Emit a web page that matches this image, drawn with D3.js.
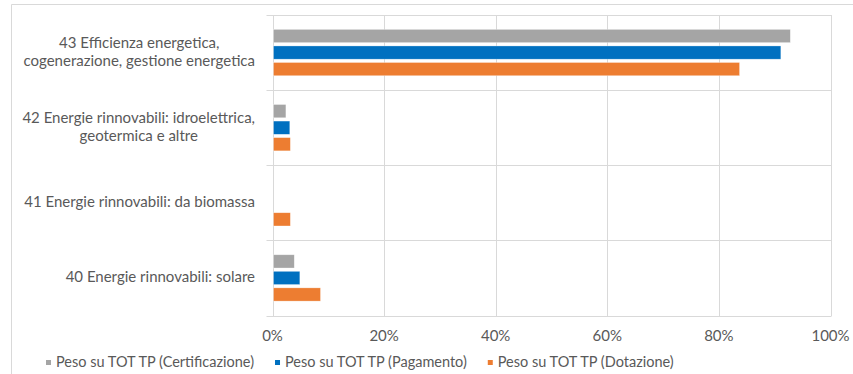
<!DOCTYPE html>
<html>
<head>
<meta charset="utf-8">
<script src="https://cdn.jsdelivr.net/npm/d3@7"></script>
<style>
  html, body { margin: 0; padding: 0; background: #fff; }
  svg { display: block; }
  text { font-family: Lato, "Open Sans", sans-serif; fill: #595959; }
</style>
</head>
<body>
<svg id="chart" width="853" height="374"></svg>
<script>
// Intervention categories (top to bottom) and their wrapped label lines
const categories = ["43", "42", "41", "40"];
const categoryLabels = [
  ["43 Efficienza energetica,", "cogenerazione, gestione energetica"],
  ["42 Energie rinnovabili: idroelettrica,", "geotermica e altre"],
  ["41 Energie rinnovabili: da biomassa"],
  ["40 Energie rinnovabili: solare"]
];

// Share of total per category
const seriesNames = [
  "Peso su TOT TP (Certificazione)",
  "Peso su TOT TP (Pagamento)",
  "Peso su TOT TP (Dotazione)"
];
const certificazione = [0.928, 0.024, 0.000, 0.039];
const pagamento      = [0.911, 0.031, 0.000, 0.049];
const dotazione      = [0.837, 0.032, 0.032, 0.086];
const seriesValues = [certificazione, pagamento, dotazione];
const seriesColors = ["#A5A5A5", "#0070C0", "#ED7D31"];

const xTicks = [0, 0.2, 0.4, 0.6, 0.8, 1.0];

const svg = d3.select("#chart");
const fontSize = 15;
const legendFontSize = 14.5;
const gridColor = "#d9d9d9";

// Outer chart frame (left and top edges)
svg.append("path")
  .attr("d", "M11.5,374 V4.5 H853")
  .attr("fill", "none")
  .attr("stroke", gridColor)
  .attr("stroke-width", 1);

const plot = { left: 272.5, right: 830.5, top: 15, bottom: 315.5 };

const x = d3.scaleLinear().domain([0, 1]).range([plot.left, plot.right]);
const y = d3.scaleBand().domain(categories).range([plot.top, plot.bottom]);
const ys = d3.scaleBand().domain(seriesNames).range([0, y.bandwidth()])
  .paddingInner(0.2).paddingOuter(0.87);

// Vertical value gridlines
svg.append("g")
  .selectAll("line")
  .data(xTicks)
  .join("line")
  .attr("x1", d => Math.round(x(d)) + 0.5)
  .attr("x2", d => Math.round(x(d)) + 0.5)
  .attr("y1", plot.top)
  .attr("y2", Math.round(plot.bottom) + 0.5)
  .attr("stroke", gridColor);

// Category boundaries with outward tick marks
const bounds = categories.map(c => y(c)).concat([plot.bottom]);
svg.append("g")
  .selectAll("line")
  .data(bounds)
  .join("line")
  .attr("x1", plot.left - 6)
  .attr("x2", plot.right + 0.5)
  .attr("y1", d => Math.round(d) + 0.5)
  .attr("y2", d => Math.round(d) + 0.5)
  .attr("stroke", gridColor);

// Bars
const rows = [];
categories.forEach((c, i) => {
  seriesNames.forEach((s, j) => {
    rows.push({ cat: c, series: s, value: seriesValues[j][i], color: seriesColors[j] });
  });
});

svg.append("g")
  .selectAll("rect")
  .data(rows.filter(d => d.value > 0))
  .join("rect")
  .attr("x", x(0) + 1)
  .attr("y", d => y(d.cat) + ys(d.series))
  .attr("width", d => x(d.value) - x(0) - 1)
  .attr("height", ys.bandwidth())
  .attr("fill", d => d.color)
  .attr("stroke", "#ffffff")
  .attr("stroke-opacity", 0.5)
  .attr("stroke-width", 0.6);

// Value axis tick labels
svg.append("g")
  .selectAll("text")
  .data(xTicks)
  .join("text")
  .attr("x", d => x(d))
  .attr("y", 341)
  .attr("text-anchor", "middle")
  .attr("font-size", fontSize)
  .text(d => d3.format(".0%")(d));

// Category labels: lines centred on each other, block right-aligned
const labelRight = 255;
const lineHeight = 18.4;
const labelG = svg.append("g");
categories.forEach((c, i) => {
  const lines = categoryLabels[i];
  const cy = y(c) + y.bandwidth() / 2;
  const t = labelG.append("text")
    .attr("font-size", fontSize)
    .attr("text-anchor", "middle");
  const spans = lines.map((ln, k) =>
    t.append("tspan")
      .attr("y", cy + 4.5 + (k - (lines.length - 1) / 2) * lineHeight)
      .text(ln)
  );
  const maxW = d3.max(spans, s => s.node().getComputedTextLength());
  spans.forEach(s => s.attr("x", labelRight - maxW / 2));
});

// Legend
const legend = svg.append("g");
let lx = 46;
seriesNames.forEach((s, j) => {
  legend.append("rect")
    .attr("x", lx)
    .attr("y", 360)
    .attr("width", 5)
    .attr("height", 5)
    .attr("fill", seriesColors[j]);
  const t = legend.append("text")
    .attr("x", lx + 10)
    .attr("y", 367)
    .attr("font-size", legendFontSize)
    .text(s);
  lx += 10 + t.node().getComputedTextLength() + 21;
});
</script>
</body>
</html>
